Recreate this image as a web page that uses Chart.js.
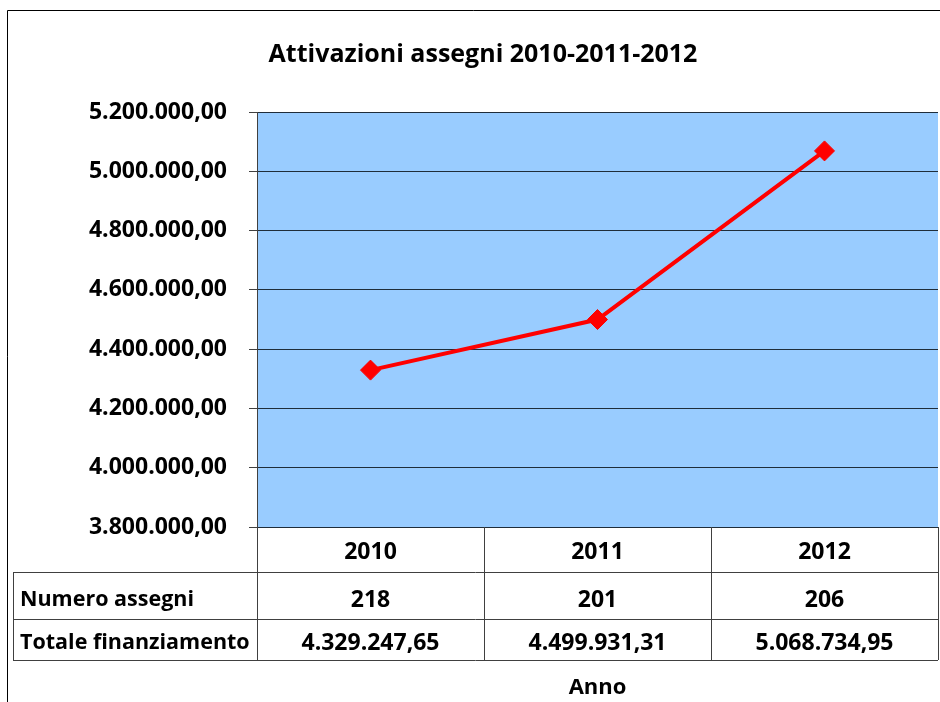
<!DOCTYPE html>
<html>
<head>
<meta charset="utf-8">
<script src="https://cdn.jsdelivr.net/npm/chart.js@4.4.0/dist/chart.umd.min.js"></script>
<style>
  html, body { margin: 0; padding: 0; background: #fff; }
</style>
</head>
<body>
<canvas id="attivazioniChart" width="940" height="702"></canvas>
<script>
// dati
const anni = ['2010', '2011', '2012'];
const numeroAssegni = [218, 201, 206];
const totaleFinanziamento = [4329247.65, 4499931.31, 5068734.95];
const etichetteRighe = ['Numero assegni', 'Totale finanziamento'];
const yMin = 3800000, yMax = 5200000, yStep = 200000;

const FONT = '"Open Sans", Lato, sans-serif';

// 4329247.65 -> "4.329.247,65"
function formatIt(v, dec) {
    const parts = v.toFixed(dec).split('.');
    const int = parts[0].replace(/\B(?=(\d{3})+(?!\d))/g, '.');
    return parts[1] ? int + ',' + parts[1] : int;
}

const sfondoPlot = {
    id: 'sfondoPlot',
    beforeDraw(chart) {
        const { ctx, chartArea: a } = chart;
        ctx.save();
        ctx.fillStyle = '#99CCFF';
        ctx.fillRect(a.left, a.top, a.right - a.left, a.bottom - a.top);
        ctx.restore();
    }
};

const tabellaDati = {
    id: 'tabellaDati',
    afterDraw(chart) {
        const { ctx, chartArea: a, scales: { x } } = chart;
        const colW = x.getPixelForValue(1) - x.getPixelForValue(0);
        const tabLeft = 13;
        const righe = [a.bottom, a.bottom + 45, a.bottom + 92, a.bottom + 133];

        ctx.save();
        // cornice esterna
        ctx.strokeStyle = '#000';
        ctx.lineWidth = 1;
        ctx.beginPath();
        ctx.moveTo(7.5, 702);
        ctx.lineTo(7.5, 10.5);
        ctx.lineTo(940, 10.5);
        ctx.stroke();

        // griglia tabella
        ctx.strokeStyle = '#404040';
        ctx.beginPath();
        for (let i = 0; i <= anni.length; i++) {
            const px = Math.round(x.getPixelForValue(0) - colW / 2 + i * colW) + 0.5;
            ctx.moveTo(px, righe[0]);
            ctx.lineTo(px, righe[3]);
        }
        for (let r = 1; r < righe.length; r++) {
            ctx.moveTo(tabLeft, righe[r] + 0.5);
            ctx.lineTo(a.right, righe[r] + 0.5);
        }
        ctx.moveTo(tabLeft + 0.5, righe[1]);
        ctx.lineTo(tabLeft + 0.5, righe[3]);
        ctx.stroke();

        // testi
        ctx.fillStyle = '#000';
        ctx.textBaseline = 'middle';
        ctx.textAlign = 'center';
        ctx.font = 'bold 23px ' + FONT;
        anni.forEach((anno, i) => {
            const cx = x.getPixelForValue(i);
            ctx.fillText(anno, cx, righe[0] + 25);
            ctx.fillText(String(numeroAssegni[i]), cx, righe[1] + 28);
            ctx.fillText(formatIt(totaleFinanziamento[i], 2), cx, righe[2] + 24);
        });
        ctx.font = 'bold 21.5px ' + FONT;
        ctx.textAlign = 'left';
        ctx.fillText(etichetteRighe[0], 20, righe[1] + 28);
        ctx.fillText(etichetteRighe[1], 20, righe[2] + 24);

        // titolo asse
        ctx.font = 'bold 22px ' + FONT;
        ctx.textAlign = 'center';
        ctx.fillText('Anno', (a.left + a.right) / 2, 688);

        // titolo grafico
        ctx.font = 'bold 25px ' + FONT;
        ctx.fillText('Attivazioni assegni 2010-2011-2012', 483, 55);
        ctx.restore();
    }
};

const ctx = document.getElementById('attivazioniChart').getContext('2d');

new Chart(ctx, {
    type: 'line',
    data: {
        labels: anni,
        datasets: [{
            label: 'Totale finanziamento',
            data: totaleFinanziamento,
            borderColor: '#FF0000',
            backgroundColor: '#FF0000',
            borderWidth: 4,
            pointStyle: 'rectRot',
            pointRadius: 10,
            pointBackgroundColor: '#FF0000',
            pointBorderColor: '#FF0000',
            pointBorderWidth: 1,
            tension: 0
        }]
    },
    options: {
        responsive: false,
        animation: false,
        layout: { autoPadding: false, padding: { top: 112, right: 2, left: 0, bottom: 0 } },
        plugins: {
            legend: { display: false },
            tooltip: { enabled: false },
            title: { display: false }
        },
        scales: {
            x: {
                type: 'category',
                offset: true,
                ticks: { display: false },
                grid: { display: false },
                border: { display: false },
                afterFit(s) { s.height = 175; }
            },
            y: {
                min: yMin,
                max: yMax,
                ticks: {
                    stepSize: yStep,
                    callback: v => formatIt(v, 2),
                    color: '#000',
                    padding: 22,
                    font: { family: FONT, weight: 'bold', size: 23 }
                },
                grid: { color: '#1f2d3a', tickLength: 8, tickColor: '#404040' },
                border: { color: '#404040' },
                afterFit(s) { s.width = 257; }
            }
        }
    },
    plugins: [sfondoPlot, tabellaDati]
});
</script>
</body>
</html>
